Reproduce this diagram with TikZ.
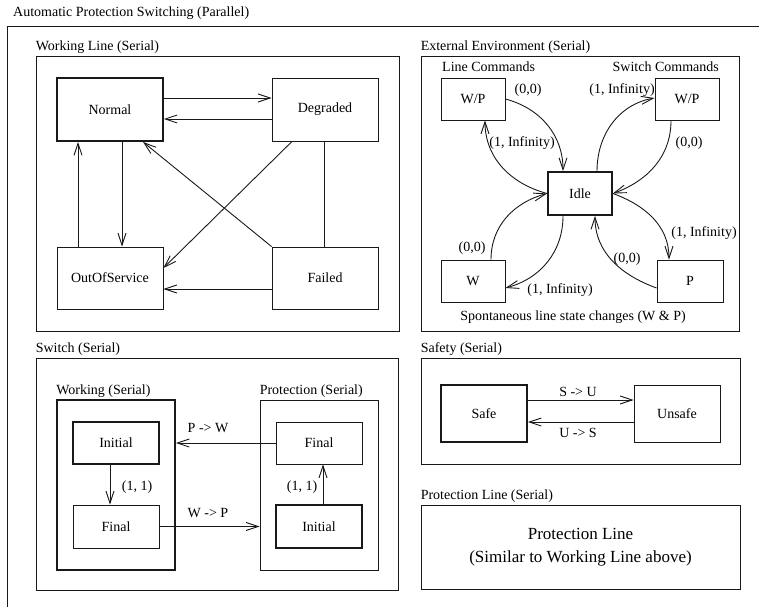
\documentclass[tikz,border=0pt]{standalone}
\usepackage{fontspec}
\setmainfont{Liberation Serif}
\usepackage{tikz}
\usetikzlibrary{arrows.meta}

\begin{document}
\begin{tikzpicture}[x=1pt, y=-1pt]
  \colorlet{ink}{black!90}
  \tikzset{
    txt/.style={font=\fontsize{14}{16}\selectfont, inner sep=0pt},
    title/.style={txt, anchor=south west, inner ysep=1.5pt},
    state/.style 2 args={draw=ink, line width=0.9pt, fill=white, txt,
      minimum width=#1, minimum height=#2},
    frame/.style 2 args={draw=ink, line width=0.9pt, inner sep=0pt,
      minimum width=#1, minimum height=#2},
    bold/.style={line width=1.8pt},
    arr/.style={draw=ink, line width=0.9pt,
      -{Straight Barb[length=12pt, width=8pt]}}
  }
  \useasboundingbox (0,0) rectangle (759,607);

  %--- Outer frame ---
  \node[txt, anchor=west] (apstitle) at (13,13) {Automatic Protection Switching (Parallel)};
  \draw[ink, line width=0.9pt] (7,607) |- (759,26);

  %--- Working Line ---
  \node[frame={363}{275}] (wlbox) at (217.5,193.5) {};
  \node[title] (wltitle) at (wlbox.north west) {Working Line (Serial)};
  \node[state={106}{63}, bold] (normal)   at (110,109.5) {Normal};
  \node[state={106}{63}]       (degraded) at (325,109.5) {Degraded};
  \node[state={106}{62}]       (oos)      at (110,278)   {OutOfService};
  \node[state={106}{62}]       (failed)   at (325,278)   {Failed};

  \draw[arr] ([yshift=11.5pt]normal.east) -- ([yshift=11.5pt]degraded.west);
  \draw[arr] ([yshift=-9.5pt]degraded.west) -- ([yshift=-9.5pt]normal.east);
  \draw[arr] ([xshift=12pt]normal.south) -- ([xshift=12pt]oos.north);
  \draw[arr] ([xshift=-32pt]oos.north) -- ([xshift=-32pt]normal.south);
  \draw[arr] (failed.north west) -- ([xshift=33pt]normal.south);
  \draw[arr] ([xshift=-33pt]degraded.south) -- ([yshift=10pt]oos.east);
  \draw[arr] ([yshift=-11pt]failed.west) -- ([yshift=-11pt]oos.east);
  \draw[ink, line width=0.9pt] ([xshift=-1pt]degraded.south) -- ([xshift=-1pt]failed.north);

  %--- External Environment ---
  \node[frame={318}{275}] (envbox) at (580,193.5) {};
  \node[title] (envtitle) at (envbox.north west) {External Environment (Serial)};
  \node[txt, anchor=west] (linecmd)   at (442,67) {Line Commands};
  \node[txt, anchor=east] (switchcmd) at (719,67) {Switch Commands};
  \node[state={64}{42}]       (linewp)   at (473,99)    {W/P};
  \node[state={64}{42}]       (switchwp) at (687,99)    {W/P};
  \node[state={64}{43}, bold] (idle)     at (580,193.5) {Idle};
  \node[state={64}{42}]       (linew)    at (473,281)   {W};
  \node[state={66}{42}]       (linep)    at (690,281)   {P};
  \node[txt] (spont) at (573,317) {Spontaneous line state changes (W \& P)};

  \draw[arr] (linewp.east) to[out=-15, in=90] ([xshift=-17pt]idle.north);
  \draw[arr] (idle.west) to[out=165, in=-90] ([xshift=12pt]linewp.south);
  \draw[arr] ([xshift=18pt]linew.north) to[out=90, in=195] (idle.west);
  \draw[arr] ([xshift=-17pt]idle.south) to[out=-90, in=15] ([yshift=-7pt]linew.east);
  \draw[arr] ([xshift=17pt]idle.north) to[out=90, in=190] ([yshift=1pt]switchwp.west);
  \draw[arr] ([xshift=-16pt]switchwp.south) to[out=-90, in=20] (idle.east);
  \draw[arr] (idle.east) to[out=-20, in=90] ([xshift=-21pt]linep.north);
  \draw[arr] ([yshift=-7pt]linep.west) to[out=160, in=-90] ([xshift=15pt]idle.south);

  \node[txt] (lwpout)  at (528,90)  {(0,0)};
  \node[txt] (lwpin)   at (522,143) {(1, Infinity)};
  \node[txt] (lwout)   at (472,248) {(0,0)};
  \node[txt] (lwin)    at (560,290) {(1, Infinity)};
  \node[txt] (lswpin)  at (622,90)  {(1, Infinity)};
  \node[txt] (lswpout) at (689,143) {(0,0)};
  \node[txt] (lpin)    at (704,233) {(1, Infinity)};
  \node[txt] (lpout)   at (627,259) {(0,0)};

  %--- Switch ---
  \node[frame={362}{232}] (swbox) at (217,474) {};
  \node[title] (swtitle) at (swbox.north west) {Switch (Serial)};
  \node[frame={118}{170}, bold] (workbox) at (116,485) {};
  \node[title] (worktitle) at (workbox.north west) {Working (Serial)};
  \node[frame={118}{170}] (protbox) at (319,485) {};
  \node[title] (prottitle) at (protbox.north west) {Protection (Serial)};
  \node[state={86}{42}, bold] (initw)  at (116,443)   {Initial};
  \node[state={86}{43}]       (finalw) at (116,526.5) {Final};
  \node[state={86}{42}]       (finalp) at (319,443)   {Final};
  \node[state={86}{43}, bold] (initp)  at (319,526.5) {Initial};

  \draw[arr] ([xshift=-6pt]initw.south) -- ([xshift=-6pt]finalw.north);
  \draw[arr] ([xshift=4pt]initp.north) -- ([xshift=4pt]finalp.south);
  \draw[arr] (finalp.west) -- (finalp.west -| workbox.east);
  \draw[arr] (finalw.east) -- (finalw.east -| protbox.west);
  \node[txt] (lwork) at (137,487) {(1, 1)};
  \node[txt] (lprot) at (302,487) {(1, 1)};
  \node[txt] (lpw)   at (208,428) {P -> W};
  \node[txt] (lwp)   at (208,513) {W -> P};

  %--- Safety ---
  \node[frame={319}{106}] (safetybox) at (580.5,411) {};
  \node[title] (safetytitle) at (safetybox.north west) {Safety (Serial)};
  \node[state={86}{57}, bold] (safe)   at (484,413.5) {Safe};
  \node[state={86}{57}]       (unsafe) at (677,413.5) {Unsafe};
  \draw[arr] ([yshift=13.5pt]safe.east) -- ([yshift=13.5pt]unsafe.west);
  \draw[arr] ([yshift=-8.5pt]unsafe.west) -- ([yshift=-8.5pt]safe.east);
  \node[txt] (lsu) at (578,392) {S -> U};
  \node[txt] (lus) at (578,433) {U -> S};

  %--- Protection Line ---
  \node[frame={319}{84}, align=center, font=\fontsize{17}{23}\selectfont] (plbox) at (580.5,547)
    {Protection Line\\(Similar to Working Line above)};
  \node[title] (pltitle) at (plbox.north west) {Protection Line (Serial)};

\end{tikzpicture}
\end{document}
